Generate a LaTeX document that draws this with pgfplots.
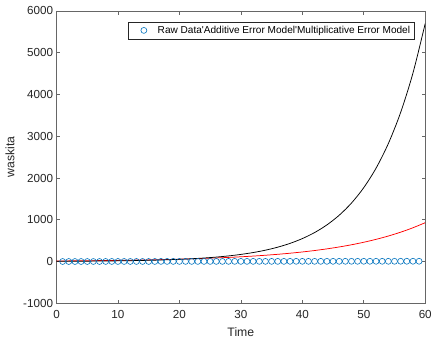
\documentclass[border=0pt]{standalone}
\usepackage{fontspec}
\setmainfont{Liberation Sans}
\usepackage{pgfplots}
\pgfplotsset{compat=1.18}
\definecolor{mblue}{RGB}{0,114,189}
\definecolor{axgray}{RGB}{38,38,38}
\begin{document}
\begin{tikzpicture}
\begin{axis}[
  scale only axis, width=372bp, height=295bp,
  xmin=0, xmax=60, ymin=-1000, ymax=6000,
  xtick={0,10,...,60}, xticklabels={0,10,20,30,40,50,60},
  ytick={-1000,0,...,6000}, yticklabels={-1000,0,1000,2000,3000,4000,5000,6000},
  tick align=inside, major tick length=3.7bp,
  axis line style={draw=black!60, line width=0.6bp},
  every tick/.style={draw=black!60, line width=0.6bp},
  ticklabel style={font=\fontsize{11.8}{13}\selectfont, text=axgray},
  xticklabel style={yshift=-3.5bp},
  xlabel={Time}, ylabel={waskita},
  label style={font=\fontsize{12.4}{14}\selectfont, text=axgray},
  xlabel style={at={(axis description cs:0.5,-0.1)}, anchor=center},
  ylabel style={at={(axis description cs:-0.1263,0.5)}, anchor=center},
  legend style={at={(axis description cs:1,1)}, anchor=north east, xshift=-11bp, yshift=-11bp,
    draw=axgray, line width=0.5bp, font=\fontsize{10.2}{12}\selectfont, inner sep=2bp},
  legend cell align=left,
  legend image code/.code={\path[draw=none,fill=none] (0bp,-4bp) rectangle (26bp,4bp); \draw[#1] plot coordinates {(14bp,0bp)};},
]
\addplot[only marks, mark=o, mark size=3bp, mark options={draw=mblue, line width=0.6bp}] coordinates {
(1,1)(2,1)(3,1)(4,1)(5,1)(6,1)(7,1)(8,2)(9,2)(10,2)(11,2)(12,2)(13,2)(14,2)(15,2)(16,2)(17,3)(18,3)(19,3)(20,3)
(21,3)(22,3)(23,3)(24,3)(25,3)(26,3)(27,3)(28,4)(29,4)(30,4)(31,4)(32,4)(33,4)(34,4)(35,4)(36,4)(37,4)(38,5)(39,5)(40,5)
(41,5)(42,5)(43,5)(44,5)(45,5)(46,5)(47,6)(48,6)(49,6)(50,6)(51,6)(52,6)(53,6)(54,6)(55,6)(56,7)(57,7)(58,7)(59,7)
};
\addlegendentry{Raw Data\textquotesingle Additive Error Model\textquotesingle Multiplicative Error Model}
\addplot[forget plot, red, line width=0.75bp, smooth] coordinates {
(0,14.0)(2,16.1)(4,18.5)(6,21.2)(8,24.4)(10,28.1)(12,32.3)(14,37.2)(16,42.8)(18,49.2)(20,56.6)
(22,65.1)(24,74.9)(26,86.1)(28,99.0)(30,113.9)(32,131.0)(34,150.7)(36,173.4)(38,199.4)(40,229.4)
(42,263.8)(44,303.5)(46,349.1)(48,401.5)(50,461.9)(52,531.3)(54,611.1)(56,702.9)(58,808.5)(60,930)
};
\addplot[forget plot, black, line width=0.75bp, smooth] coordinates {
(0,5.1)(2,6.4)(4,8.1)(6,10.3)(8,13.0)(10,16.4)(12,20.8)(14,26.2)(16,33.1)(18,41.9)(20,52.9)
(22,66.9)(24,84.5)(26,106.8)(28,134.9)(30,170.5)(32,215.5)(34,272.2)(36,344.0)(38,434.7)(40,549.3)
(42,694.0)(44,877.0)(46,1108.2)(48,1400.3)(50,1769.4)(52,2235.8)(54,2825.2)(56,3569.9)(58,4510.9)(60,5700)
};
\end{axis}
\path (current axis.south west) ++(-57bp,-40bp);
\path (current axis.north east) ++(6bp,11bp);
\end{tikzpicture}
\end{document}
